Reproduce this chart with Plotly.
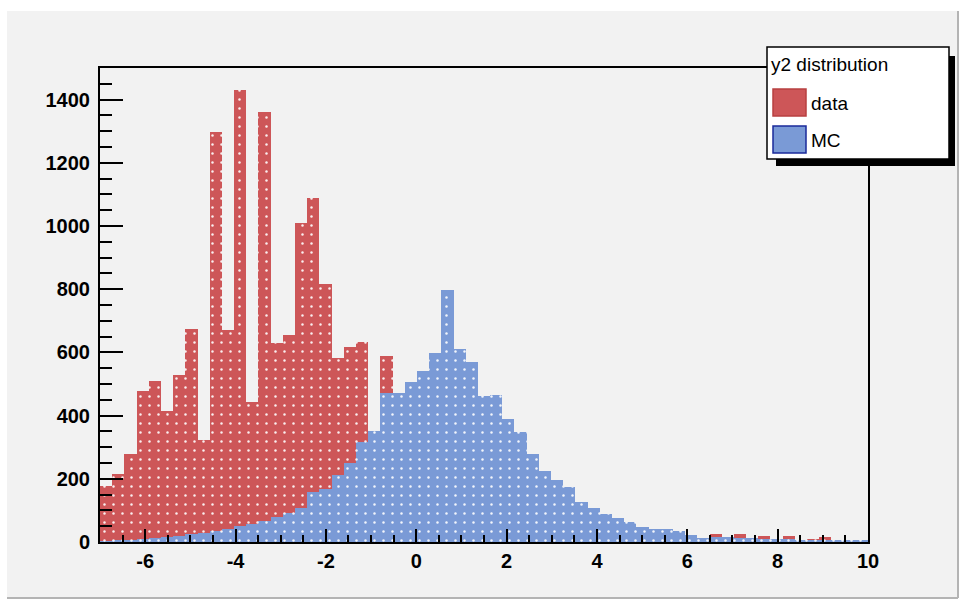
import plotly.graph_objects as go

# Histogram definition: 63 equal bins on [-7, 10]
XMIN, XMAX, NBINS = -7.0, 10.0, 63

# Bin contents of y2 for data and Monte Carlo
data_counts = [176, 215, 279, 478, 510, 415, 530, 675, 323, 1299,
               670, 1430, 444, 1362, 630, 654, 1010, 1088, 815, 583,
               616, 634, 320, 588, 300, 280, 270, 260, 240, 210,
               180, 165, 150, 130, 110, 100, 90, 85, 75, 65,
               60, 50, 45, 35, 30, 25, 20, 20, 15, 12,
               25, 12, 25, 10, 20, 8, 20, 5, 8, 15,
               3, 2, 1]
mc_counts = [2, 4, 6, 9, 12, 15, 19, 24, 28, 34,
             42, 50, 58, 68, 80, 92, 108, 158, 167, 213,
             249, 318, 350, 470, 470, 507, 541, 599, 797, 612,
             571, 462, 465, 389, 348, 279, 226, 197, 173, 128,
             107, 90, 76, 62, 47, 42, 40, 34, 23, 14,
             16, 16, 14, 13, 10, 10, 8, 7, 5, 5,
             4, 4, 4]

# Axis tick labels (plain hyphen minus, as ROOT prints them)
x_ticks = [-6, -4, -2, 0, 2, 4, 6, 8, 10]
x_tick_labels = ["-6", "-4", "-2", "0", "2", "4", "6", "8", "10"]

legend_title = "y2 distribution"
series_names = ["data", "MC"]

RED = "#cd5658"
BLUE = "#7a9ad6"
BG = "#f2f2f2"

bw = (XMAX - XMIN) / NBINS
centers = [XMIN + (i + 0.5) * bw for i in range(NBINS)]

W, H = 965, 605
L, R, T, B = 100, 97, 68, 63
PW, PH = W - L - R, H - T - B


def px(x):
    return (x - L) / PW


def py(y):
    return (H - B - y) / PH


def stipple(color):
    return dict(shape=".", fgcolor="white", bgcolor=color, size=9,
                solidity=0.06, fgopacity=0.9)


fig = go.Figure()
fig.add_trace(go.Bar(x=centers, y=data_counts, width=bw, name=series_names[0],
                     marker=dict(color=RED, line=dict(width=0),
                                 pattern=stipple(RED))))
fig.add_trace(go.Bar(x=centers, y=mc_counts, width=bw, name=series_names[1],
                     marker=dict(color=BLUE, line=dict(width=0),
                                 pattern=stipple(BLUE))))

tick_font = dict(family="Liberation Sans", size=20, color="black", weight="bold")

fig.update_layout(
    width=W, height=H,
    margin=dict(l=L, r=R, t=T, b=B, pad=0),
    paper_bgcolor="white",
    plot_bgcolor=BG,
    barmode="overlay",
    bargap=0,
    showlegend=False,
    xaxis=dict(range=[XMIN, XMAX], tickmode="array", tickvals=x_ticks,
               ticktext=x_tick_labels, ticks="inside", ticklen=13,
               tickwidth=2, tickcolor="black", showgrid=False, zeroline=False,
               showline=True, linecolor="black", linewidth=2, mirror=True,
               tickfont=tick_font,
               minor=dict(dtick=0.5, ticks="inside", ticklen=7, tickwidth=2,
                          tickcolor="black", showgrid=False)),
    yaxis=dict(range=[0, 1500], dtick=200, ticks="inside", ticklen=23,
               tickwidth=2, tickcolor="black", showgrid=False, zeroline=False,
               showline=True, linecolor="black", linewidth=2, mirror=True,
               tickfont=tick_font, ticklabelstandoff=4,
               minor=dict(dtick=50, ticks="inside", ticklen=12, tickwidth=2,
                          tickcolor="black", showgrid=False)),
)

shapes = []
# canvas panel with bevelled edges
shapes.append(dict(type="rect", xref="paper", yref="paper", layer="below",
                   x0=px(7), x1=px(958), y0=py(598), y1=py(11),
                   fillcolor=BG, line=dict(width=0)))
shapes.append(dict(type="line", xref="paper", yref="paper", layer="below",
                   x0=px(7), x1=px(958), y0=py(598), y1=py(598),
                   line=dict(color="#b4b4b4", width=2)))
shapes.append(dict(type="line", xref="paper", yref="paper", layer="below",
                   x0=px(958), x1=px(958), y0=py(598), y1=py(11),
                   line=dict(color="#b4b4b4", width=2)))

# legend box with drop shadow
shapes.append(dict(type="rect", xref="paper", yref="paper", layer="above",
                   x0=px(776), x1=px(955), y0=py(166), y1=py(56),
                   fillcolor="black", line=dict(width=0)))
shapes.append(dict(type="rect", xref="paper", yref="paper", layer="above",
                   x0=px(767), x1=px(949), y0=py(159), y1=py(47),
                   fillcolor="white", line=dict(color="black", width=1.5)))
# legend swatches
shapes.append(dict(type="rect", xref="paper", yref="paper", layer="above",
                   x0=px(773), x1=px(806), y0=py(116), y1=py(89),
                   fillcolor=RED, line=dict(color="#b84040", width=1.5)))
shapes.append(dict(type="rect", xref="paper", yref="paper", layer="above",
                   x0=px(773), x1=px(806), y0=py(153), y1=py(126),
                   fillcolor=BLUE, line=dict(color="#1a2a9a", width=1.5)))

legend_font = dict(family="Liberation Sans", size=19, color="black")
annotations = [
    dict(text=legend_title, xref="paper", yref="paper", x=px(769), y=py(65),
         xanchor="left", yanchor="middle", showarrow=False, font=legend_font),
    dict(text=series_names[0], xref="paper", yref="paper", x=px(809), y=py(103),
         xanchor="left", yanchor="middle", showarrow=False, font=legend_font),
    dict(text=series_names[1], xref="paper", yref="paper", x=px(809), y=py(140),
         xanchor="left", yanchor="middle", showarrow=False, font=legend_font),
]

fig.update_layout(shapes=shapes, annotations=annotations)
fig.write_html("out.html")
